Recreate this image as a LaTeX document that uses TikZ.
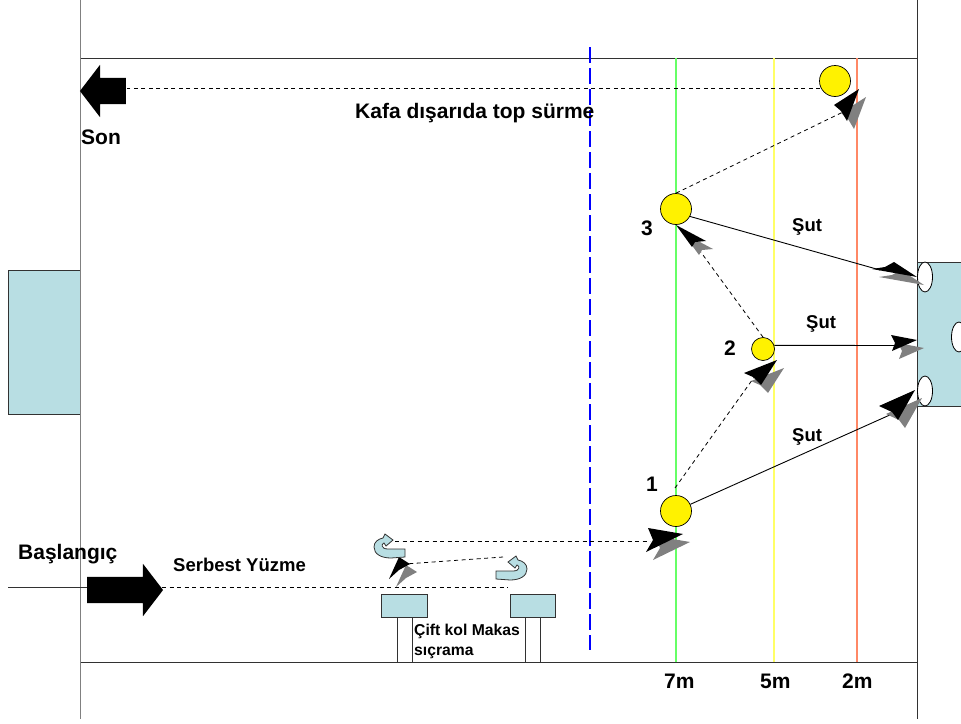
\documentclass[tikz,border=0pt]{standalone}
\usepackage{fontspec}
\setmainfont{Liberation Sans}
\usetikzlibrary{shapes.arrows,shapes.geometric}
\definecolor{goalblue}{RGB}{184,222,227}
\definecolor{frameline}{RGB}{50,50,50}
\definecolor{shadowgray}{RGB}{128,128,128}
\tikzset{
  frame/.style    = {draw=frameline, line width=1pt},
  mark7/.style    = {draw={rgb,255:red,102;green,255;blue,102}, line width=1.2pt},
  mark5/.style    = {draw={rgb,255:red,255;green,255;blue,102}, line width=1.2pt},
  mark2/.style    = {draw={rgb,255:red,255;green,136;blue,102}, line width=1.2pt},
  halfway/.style  = {draw=blue, line width=1.8pt, dash pattern=on 16pt off 5pt},
  goal/.style     = {draw=frameline, line width=0.8pt, fill=goalblue},
  hole/.style     = {draw=black, line width=0.8pt, fill=white, ellipse, inner sep=0pt,
                     minimum width=15pt, minimum height=30pt},
  player/.style   = {draw=black, line width=0.7pt, fill=yellow, circle, inner sep=0pt},
  swim/.style     = {draw=black, line width=0.8pt, dash pattern=on 4pt off 3.5pt},
  shot/.style     = {draw=black, line width=0.9pt},
  label/.style    = {font=\bfseries\fontsize{18.5}{20}\selectfont, inner sep=0pt, align=left},
  biglabel/.style = {font=\bfseries\fontsize{21}{22}\selectfont, inner sep=0pt},
  bigarrow/.style = {single arrow, fill=black, inner sep=0pt, text height=26pt, text depth=0pt,
                     single arrow head extend=13pt, single arrow tip angle=105}
}
% arrow head with its shadow: tip, wing, notch, wing
\newcommand{\dartp}[4]{
  \fill[shadowgray, shift={(7,8)}] #1 -- #2 -- #3 -- #4 -- cycle;
  \fill[black] #1 -- #2 -- #3 -- #4 -- cycle;
}
\begin{document}
\begin{tikzpicture}[x=1pt, y=-1pt,
    turn/.pic={
      \draw[frameline, line width=0.8pt, fill=goalblue]
        (14,11) -- (0,12) .. controls (-10,12) and (-17,8) .. (-17,1)
        .. controls (-17,-4) and (-13,-7) .. (-8,-8) -- (-6,-12) -- (2,-6)
        -- (-5,0) -- (-7,-3) .. controls (-10,-2) and (-10,3) .. (-3,3)
        -- (14,3) -- cycle;
    }]
  \useasboundingbox (0,0) rectangle (961,723);

  % the pool
  \draw[goal] (8.5,270.5) rectangle (80.5,414.5);
  \draw[goal] (917.5,262.5) rectangle (970,406.5);
  \draw[frame, draw=gray] (80,0) -- (80,719);
  \draw[frame] (917.5,0) -- (917.5,719);
  \draw[frame] (80.5,58.5) -- (917.5,58.5);
  \draw[frame] (80.5,662.5) -- (917.5,662.5);

  % the marks
  \draw[mark7] (676,58) -- (676,662);
  \draw[mark5] (774,58) -- (774,662);
  \draw[mark2] (857,58) -- (857,662);
  \draw[halfway] (590,47) -- (590,650);

  % the blocks
  \draw[goal] (381.5,594.5) rectangle (427.5,617.5);
  \draw[goal] (510.5,594.5) rectangle (555.5,617.5);
  \foreach \value in {397.5,412.5,525.5,540.5}
    \draw[frame] (\value,617) -- (\value,662);

  % the players and the holes in the goal
  \node[player, minimum size=31pt] (p1) at (676,511) {};
  \node[player, minimum size=23pt] (p2) at (763,349) {};
  \node[player, minimum size=31pt] (p3) at (676,209) {};
  \node[player, minimum size=31pt] (p4) at (835,81) {};
  \node[hole] (h1) at (925,277) {};
  \node[hole] (h2) at (959,337) {};
  \node[hole] (h3) at (925,391) {};

  % the big arrows
  \node[bigarrow, minimum height=76pt] (start) at (120,590) {};
  \node[bigarrow, minimum height=46pt, shape border rotate=180] (finish) at (108,91) {};

  % free ends of the connectors
  \coordinate (in) at (8,587.5);
  \coordinate (t0) at (508,587.5);
  \coordinate (t1) at (503,557);
  \coordinate (t2) at (405,564);
  \coordinate (t3) at (395,541.5);
  \coordinate (t4) at (650,541.5);
  \coordinate (t01) at (675,488);
  \coordinate (t12) at (755,376);
  \coordinate (t23) at (692,240);
  \coordinate (t34) at (843,112);
  \coordinate (s1) at (892,414);
  \coordinate (s2) at (897,345.5);
  \coordinate (s3) at (880,270);
  \coordinate (f1) at (127,88.5);
  \coordinate (f2) at (820,88.5);
  \coordinate (a1) at (162,587.5);

  % the route
  \draw[frame] (in) -- (in -| start.west);
  \draw[swim] (a1) -- (t0);
  \draw[swim] (t1) -- (t2);
  \draw[swim] (t3) -- (t4);
  \draw[swim] (t01) -- (t12);
  \draw[swim] (p2.north) -- (t23);
  \draw[swim] (p3.north) -- (t34);
  \draw[swim] (f2) -- (f1);
  \draw[shot] (p1.25) -- (s1);
  \draw[shot] (p2.18) -- (s2);
  \draw[shot] (p3.-28) -- (s3);

  % the arrow heads
  \dartp{(399,557)}{(389,579)}{(399,570)}{(410,564)}
  \dartp{(683,534)}{(648,528)}{(653,540)}{(646,552)}
  \dartp{(777,360)}{(744,373)}{(753,377)}{(761,385)}
  \dartp{(676,225)}{(692,247)}{(695,242)}{(706,241)}
  \dartp{(859,89)}{(834,105)}{(841,111)}{(847,121)}
  \dartp{(917,277)}{(872,269)}{(885,267)}{(894,262)}
  \dartp{(917,340)}{(892,351)}{(895,343)}{(891,335)}
  \dartp{(915,390)}{(879,406)}{(892,412)}{(898,420)}

  % the turns
  \pic at (391,546) {turn};
  \pic[xscale=-1] at (510,568) {turn};

  % the labels
  \node[biglabel, anchor=west] (l1) at (355,113) {Kafa dışarıda top sürme};
  \node[biglabel, anchor=west] (l2) at (81,137) {Son};
  \node[biglabel, anchor=west] (l3) at (18,554) {Başlangıç};
  \node[label, anchor=west] (l4) at (173,565) {Serbest Yüzme};
  \node[label, anchor=north west, font=\bfseries\fontsize{15.7}{19.5}\selectfont] (l5) at (414,624) {Çift kol Makas\\sıçrama};
  \node[biglabel, anchor=east] (n1) at (658,484) {1};
  \node[biglabel, anchor=east] (n2) at (736,348) {2};
  \node[biglabel, anchor=east] (n3) at (653,228) {3};
  \node[label, anchor=west] (s31) at (792,227) {Şut};
  \node[label, anchor=west] (s21) at (806,324) {Şut};
  \node[label, anchor=west] (s11) at (792,437) {Şut};
  \node[biglabel, anchor=base west] (m7) at (664,688) {7m};
  \node[biglabel, anchor=base west] (m5) at (760,688) {5m};
  \node[biglabel, anchor=base west] (m2) at (842,688) {2m};
\end{tikzpicture}
\end{document}
